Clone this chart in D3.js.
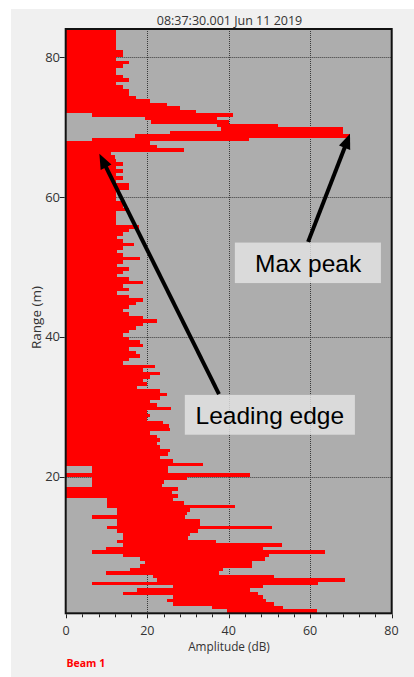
<!DOCTYPE html>
<html><head><meta charset="utf-8">
<script src="https://cdn.jsdelivr.net/npm/d3@7"></script>
<style>
html,body{margin:0;padding:0;background:#fff;}
svg{display:block;}
</style></head><body>
<svg id="c" width="414" height="677"></svg>
<script>
const titleText = "08:37:30.001 Jun 11 2019";
const xLabel = "Amplitude (dB)";
const yLabel = "Range (m)";
const legendText = "Beam 1";
const xTicks = [0, 20, 40, 60, 80];
const yTicks = [20, 40, 60, 80];

// range bin bottoms (m), 0.5 m bins
const rangeBins = [
 0.5,1.0,1.5,2.0,2.5,3.0,3.5,4.0,4.5,5.0,
 5.5,6.0,6.5,7.0,7.5,8.0,8.5,9.0,9.5,10.0,
 10.5,11.0,11.5,12.0,12.5,13.0,13.5,14.0,14.5,15.0,
 15.5,16.0,16.5,17.0,17.5,18.0,18.5,19.0,19.5,20.0,
 20.5,21.0,21.5,22.0,22.5,23.0,23.5,24.0,24.5,25.0,
 25.5,26.0,26.5,27.0,27.5,28.0,28.5,29.0,29.5,30.0,
 30.5,31.0,31.5,32.0,32.5,33.0,33.5,34.0,34.5,35.0,
 35.5,36.0,36.5,37.0,37.5,38.0,38.5,39.0,39.5,40.0,
 40.5,41.0,41.5,42.0,42.5,43.0,43.5,44.0,44.5,45.0,
 45.5,46.0,46.5,47.0,47.5,48.0,48.5,49.0,49.5,50.0,
 50.5,51.0,51.5,52.0,52.5,53.0,53.5,54.0,54.5,55.0,
 55.5,56.0,56.5,57.0,57.5,58.0,58.5,59.0,59.5,60.0,
 60.5,61.0,61.5,62.0,62.5,63.0,63.5,64.0,64.5,65.0,
 65.5,66.0,66.5,67.0,67.5,68.0,68.5,69.0,69.5,70.0,
 70.5,71.0,71.5,72.0,72.5,73.0,73.5,74.0,74.5,75.0,
 75.5,76.0,76.5,77.0,77.5,78.0,78.5,79.0,79.5,80.0,
 80.5,81.0,81.5,82.0,82.5,83.0,83.5,84.0
];
const binSize = 0.5;

// upper amplitude reached in each bin (dB)
const ampHigh = [
 61.6,53.4,51,49.2,48.5,47.3,45.2,48.5,62,68.6,
 51,37.7,38.7,45.7,45.7,48.9,49.8,63.7,48.5,53,
 36.9,30,30.5,32.5,50.6,33,33,29.3,29.7,30.5,
 41.6,28.9,26.4,27.6,26,27.6,23.5,24,29.7,45.1,
 25,25,33.6,26.4,23.1,25,25.6,23.1,22.3,23.1,
 22.3,20.7,25.6,25.2,23.9,19.8,20.7,19.8,25.7,22.3,
 20.7,23.1,24.8,23.1,17.4,19.8,19,20.7,23.1,19,
 21.9,14.1,15.6,18.2,17.2,15.6,19,18.2,15.6,14.1,
 15.6,17.2,19,22.3,19,15.6,14.1,15.6,17.2,19,
 15.6,12.5,15.6,14.1,19,15.6,12.5,14.1,15.6,12.5,
 14.1,18.2,14.1,12.5,14.1,16.7,14.1,12.5,14.1,15.6,
 18,12.3,12.3,12.3,12.3,15.6,14.1,14.1,12.3,12.3,
 12.3,15.6,15.6,12.3,14.1,12.3,14.1,12.3,14.1,12.3,
 12,11,28.9,22.3,20.7,45,69.8,68,68.2,52,
 40,37,41,32,28,24.8,20.7,17.2,15.6,15.6,
 14.1,12.3,15.6,14.1,12.3,12.3,14.1,15.6,12.3,14.1,
 14.1,12.3,12.3,12.3,12.3,12.3,12.3,9.8
];

// lower amplitude reached in each bin (dB)
const ampLow = [
 39.5,35.8,26.4,24.8,26.4,14,17.4,26.4,6.3,22.3,
 21.5,9.8,15.7,18.2,19.4,18.2,14,6.3,9.8,14,
 12.5,14,14,12.5,10,12.5,12.5,6.3,12.5,12.5,
 10,10,10,0,0,0,6.3,6.3,6.3,0,
 6.3,6.3,0,0,0,0,0,0,0,0,
 0,0,0,0,0,0,0,0,0,0,
 0,0,0,0,0,0,0,0,0,0,
 0,0,0,0,0,0,0,0,0,0,
 0,0,0,0,0,0,0,0,0,0,
 0,0,0,0,0,0,0,0,0,0,
 0,0,0,0,0,0,0,0,0,0,
 0,0,0,0,0,0,0,0,0,0,
 0,0,0,0,0,0,0,0,0,0,
 0,0,0,0,0,6.3,17,25.6,38,37,
 21,19.5,6.3,0,0,0,0,0,0,0,
 0,0,0,0,0,0,0,0,0,0,
 0,0,0,0,0,0,0,0
];

// annotations in data units: [amplitude, range]
const annoText = ["Max peak", "Leading edge"];
const annoTip = [[69.8, 69.06], [8.2, 66.2]];
const annoTail = [[59.5, 53.6], [37.6, 31.8]];
const annoBox = [[41.5, 77.4, 53.5, 47.7], [29.2, 71.0, 31.7, 26.0]];
const annoLabel = [[59.5, 49.3], [50.1, 27.55]];

const svg = d3.select("#c");
const W = 414, H = 677;
const pL = 65.7, pR = 391.7, pT = 29, pB = 613.3;

const x = d3.scaleLinear().domain([0, 80]).range([66, 391.5]);
const y = d3.scaleLinear().domain([0.45, 84.2]).range([613.3, 28]);

svg.append("rect").attr("x", 0).attr("y", 0).attr("width", W).attr("height", H).attr("fill", "#fff");
svg.append("rect").attr("x", 11).attr("y", 9).attr("width", W - 11).attr("height", H - 9).attr("fill", "#f0f0f0");

svg.append("defs").append("clipPath").attr("id", "clip")
  .append("rect").attr("x", pL).attr("y", pT).attr("width", pR - pL).attr("height", pB - pT);

svg.append("rect").attr("x", pL).attr("y", pT).attr("width", pR - pL).attr("height", pB - pT).attr("fill", "#adadad");

const grid = svg.append("g").attr("stroke", "#3a3a3a").attr("stroke-width", 1).attr("stroke-dasharray", "1,1");
[20, 40, 60].forEach(v => {
  const px = Math.round(x(v)) + 0.5;
  grid.append("line").attr("x1", px).attr("x2", px).attr("y1", pT).attr("y2", pB);
});
yTicks.forEach(v => {
  const py = Math.round(y(v)) + 0.5;
  grid.append("line").attr("x1", pL).attr("x2", pR).attr("y1", py).attr("y2", py);
});

const data = rangeBins.map((r, i) => ({r, lo: ampLow[i], hi: ampHigh[i]}));
svg.append("g").attr("clip-path", "url(#clip)")
  .selectAll("rect").data(data).join("rect")
  .attr("x", d => x(d.lo))
  .attr("width", d => Math.max(0, x(d.hi) - x(d.lo)))
  .attr("y", d => y(d.r + binSize))
  .attr("height", d => y(d.r) - y(d.r + binSize))
  .attr("fill", "#ff0000")
  .attr("shape-rendering", "crispEdges");

// frame
svg.append("rect").attr("x", pL).attr("y", pT).attr("width", pR - pL).attr("height", pB - pT)
  .attr("fill", "none").attr("stroke", "#111").attr("stroke-width", 2);

// ticks
const tk = svg.append("g").attr("stroke", "#222").attr("stroke-width", 1);
d3.range(0, 81, 4).forEach(v => {
  const px = Math.round(x(v)) + 0.5;
  const major = v % 20 === 0;
  tk.append("line").attr("x1", px).attr("x2", px).attr("y1", pB + 1).attr("y2", pB + (major ? 5 : 4));
});
yTicks.forEach(v => {
  const py = Math.round(y(v)) + 0.5;
  tk.append("line").attr("x1", pL - 6).attr("x2", pL - 1).attr("y1", py).attr("y2", py);
});

const font = "'Open Sans', 'Noto Sans', sans-serif";
svg.append("g").selectAll("text").data(xTicks).join("text")
  .attr("x", d => x(d)).attr("y", 634.5).attr("text-anchor", "middle")
  .attr("font-family", font).attr("font-size", 12.5).attr("fill", "#333").text(d => d);
svg.append("g").selectAll("text").data(yTicks).join("text")
  .attr("x", 60).attr("y", d => y(d) + 4.6).attr("text-anchor", "end")
  .attr("font-family", font).attr("font-size", 13).attr("fill", "#333").text(d => d);

svg.append("text").attr("x", 229.5).attr("y", 24.5).attr("text-anchor", "middle")
  .attr("font-family", font).attr("font-size", 12.5).attr("fill", "#333").text(titleText);
svg.append("text").attr("x", 229).attr("y", 651).attr("text-anchor", "middle")
  .attr("font-family", font).attr("font-size", 11.8).attr("fill", "#333").text(xLabel);
svg.append("text").attr("transform", "translate(40.5,317.5) rotate(-90)").attr("text-anchor", "middle")
  .attr("font-family", font).attr("font-size", 13.5).attr("fill", "#333").text(yLabel);
svg.append("text").attr("x", 66.5).attr("y", 667).attr("font-family", font).attr("font-weight", "bold")
  .attr("font-size", 10.5).attr("fill", "#ff0000").text(legendText);

// annotations
const ag = svg.append("g");
annoText.forEach((t, i) => {
  const b = annoBox[i];
  ag.append("rect").attr("x", x(b[0])).attr("y", y(b[2])).attr("width", x(b[1]) - x(b[0])).attr("height", y(b[3]) - y(b[2]))
    .attr("fill", "rgba(229,229,229,0.8)");
  ag.append("text").attr("x", x(annoLabel[i][0])).attr("y", y(annoLabel[i][1])).attr("text-anchor", "middle")
    .attr("font-family", "'Liberation Sans', Arial, sans-serif").attr("font-size", 24.5).attr("fill", "#000").text(t);
  const tx = x(annoTip[i][0]), ty = y(annoTip[i][1]);
  const sx = x(annoTail[i][0]), sy = y(annoTail[i][1]);
  const dx = tx - sx, dy = ty - sy, len = Math.hypot(dx, dy);
  const ux = dx / len, uy = dy / len, nx = -uy, ny = ux;
  const hl = 15, hw = 6;
  const bx = tx - ux * hl, by = ty - uy * hl;
  ag.append("line").attr("x1", sx).attr("y1", sy).attr("x2", bx + ux * 2).attr("y2", by + uy * 2)
    .attr("stroke", "#000").attr("stroke-width", 4);
  ag.append("path").attr("d", `M${tx},${ty}L${bx + nx * hw},${by + ny * hw}L${bx - nx * hw},${by - ny * hw}Z`).attr("fill", "#000");
});
</script>
</body></html>
